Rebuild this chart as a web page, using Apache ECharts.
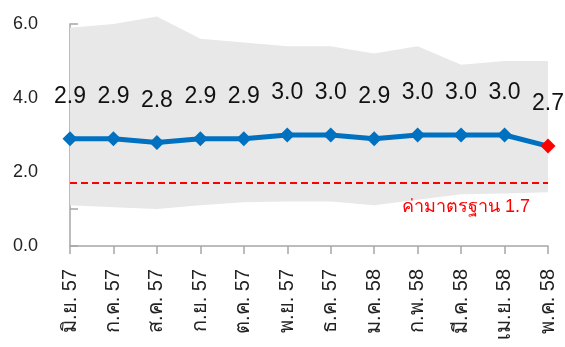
<!DOCTYPE html>
<html>
<head>
<meta charset="utf-8">
<script src="https://cdn.jsdelivr.net/npm/echarts@6/dist/echarts.min.js"></script>
<style>
  html, body { margin: 0; padding: 0; background: #fff; }
  #chart { width: 565px; height: 347px; }
</style>
</head>
<body>
<div id="chart"></div>
<script>
// Monthly categories (Thai month abbreviations, Buddhist-era years)
const months = ['มิ.ย. 57', 'ก.ค. 57', 'ส.ค. 57', 'ก.ย. 57', 'ต.ค. 57', 'พ.ย. 57',
                'ธ.ค. 57', 'ม.ค. 58', 'ก.พ. 58', 'มี.ค. 58', 'เม.ย. 58', 'พ.ค. 58'];
// Monthly average values
const values = [2.9, 2.9, 2.8, 2.9, 2.9, 3.0, 3.0, 2.9, 3.0, 3.0, 3.0, 2.7];
// Range band (min / max)
const bandLow = [1.1, 1.05, 1.0, 1.1, 1.18, 1.2, 1.2, 1.1, 1.25, 1.4, 1.42, 1.45];
const bandHigh = [5.9, 6.0, 6.2, 5.6, 5.5, 5.4, 5.4, 5.2, 5.4, 4.9, 5.0, 5.0];
// Standard reference level
const standard = 1.7;
const standardLabel = 'ค่ามาตรฐาน 1.7';
// Y-axis tick labels
const yTickLabels = ['0.0', '', '2.0', '', '4.0', '', '6.0'];

const bandSpan = bandHigh.map((h, i) => +(h - bandLow[i]).toFixed(2));
const lastIdx = values.length - 1;
const lineData = values.map((v, i) => i === lastIdx
  ? { value: v, itemStyle: { color: '#FF0000' } }
  : v);

const font = '"Liberation Sans", Arial, "Noto Sans", sans-serif';
const axisGrey = '#a6a6a6';

const chart = echarts.init(document.getElementById('chart'), null, { renderer: 'canvas' });
chart.setOption({
  animation: false,
  backgroundColor: '#ffffff',
  grid: { left: 70, right: 17, top: 24, bottom: 101, containLabel: false },
  xAxis: {
    type: 'category',
    data: months,
    boundaryGap: false,
    axisLine: { lineStyle: { color: axisGrey, width: 1.5 } },
    axisTick: { show: true, inside: false, length: 8, lineStyle: { color: axisGrey, width: 1.5 } },
    axisLabel: { rotate: 90, margin: 23, fontSize: 20, color: '#222', fontFamily: font, interval: 0 },
    splitLine: { show: false }
  },
  yAxis: {
    type: 'value',
    min: 0, max: 6, interval: 1,
    axisLine: { show: true, lineStyle: { color: axisGrey, width: 1.5 } },
    axisTick: { show: true, inside: true, length: 8, lineStyle: { color: axisGrey, width: 1.5 } },
    axisLabel: {
      margin: 32, fontSize: 18, color: '#222', fontFamily: font,
      formatter: v => yTickLabels[Math.round(v)] || ''
    },
    splitLine: { show: false }
  },
  series: [
    {
      name: 'low', type: 'line', stack: 'band', data: bandLow,
      symbol: 'none', silent: true, clip: false,
      lineStyle: { opacity: 0 }, areaStyle: { opacity: 0 }, z: 1
    },
    {
      name: 'range', type: 'line', stack: 'band', data: bandSpan,
      symbol: 'none', silent: true, clip: false,
      lineStyle: { opacity: 0 }, areaStyle: { color: '#e8e8e8', opacity: 1 }, z: 1
    },
    {
      name: 'value', type: 'line', data: lineData,
      symbol: 'diamond', symbolSize: 15,
      lineStyle: { color: '#0070C0', width: 5 },
      itemStyle: { color: '#0070C0' },
      label: {
        show: true, position: 'top', distance: 23,
        fontSize: 23, color: '#111', fontFamily: font,
        formatter: p => values[p.dataIndex].toFixed(1)
      },
      z: 5,
      markLine: {
        silent: true, symbol: 'none',
        lineStyle: { color: '#FF0000', type: [7, 4], width: 2 },
        label: {
          show: true, position: 'insideEndBottom', formatter: standardLabel,
          color: '#FF0000', fontSize: 18, fontFamily: font, distance: [18, 15]
        },
        data: [{ yAxis: standard }]
      }
    }
  ]
});
</script>
</body>
</html>
